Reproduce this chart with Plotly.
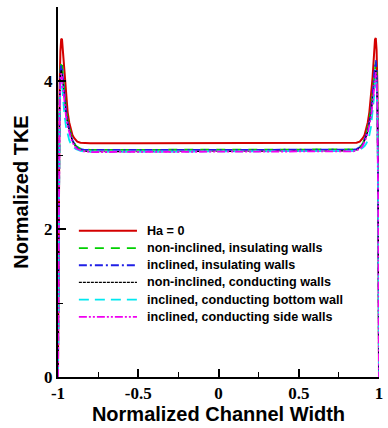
import plotly.graph_objects as go

# Normalized channel width positions (dense near the walls)
x_pos = [-1.0, -0.995, -0.99, -0.985, -0.98, -0.975, -0.97, -0.965, -0.96, -0.95,
         -0.94, -0.93, -0.92, -0.91, -0.90, -0.89, -0.88, -0.86, -0.84, -0.80,
         -0.5, 0.0, 0.5,
         0.80, 0.84, 0.86, 0.88, 0.89, 0.90, 0.91, 0.92, 0.93, 0.94,
         0.95, 0.96, 0.965, 0.97, 0.975, 0.98, 0.985, 0.99, 0.995, 1.0]

# Normalized TKE for each case
tke_ha0 = [0.0, 2.6, 3.9, 4.4, 4.57, 4.56, 4.42, 4.22, 4.05, 3.78,
           3.58, 3.44, 3.34, 3.27, 3.23, 3.20, 3.18, 3.165, 3.16, 3.16,
           3.16, 3.16, 3.16,
           3.16, 3.16, 3.165, 3.18, 3.20, 3.23, 3.27, 3.34, 3.44, 3.58,
           3.78, 4.05, 4.22, 4.42, 4.56, 4.58, 4.42, 3.92, 2.6, 0.0]

tke_noninc_ins = [0.0, 2.4, 3.7, 4.15, 4.27, 4.23, 4.09, 3.95, 3.82, 3.62,
                  3.47, 3.36, 3.28, 3.21, 3.16, 3.13, 3.11, 3.085, 3.075, 3.07,
                  3.07, 3.07, 3.07,
                  3.07, 3.075, 3.085, 3.11, 3.13, 3.16, 3.21, 3.28, 3.36, 3.47,
                  3.62, 3.82, 3.95, 4.09, 4.23, 4.26, 4.14, 3.7, 2.4, 0.0]

tke_inc_ins = [0.0, 2.4, 3.68, 4.12, 4.21, 4.17, 4.04, 3.91, 3.79, 3.60,
               3.45, 3.35, 3.27, 3.20, 3.15, 3.12, 3.10, 3.08, 3.072, 3.068,
               3.068, 3.068, 3.068,
               3.068, 3.072, 3.08, 3.10, 3.12, 3.15, 3.20, 3.27, 3.35, 3.45,
               3.60, 3.80, 3.94, 4.10, 4.25, 4.28, 4.16, 3.72, 2.4, 0.0]

tke_noninc_cond = [0.0, 2.4, 3.65, 4.08, 4.15, 4.10, 3.98, 3.85, 3.74, 3.56,
                   3.42, 3.32, 3.25, 3.19, 3.14, 3.11, 3.09, 3.065, 3.055, 3.045,
                   3.045, 3.045, 3.045,
                   3.045, 3.055, 3.065, 3.09, 3.11, 3.14, 3.19, 3.25, 3.32, 3.42,
                   3.56, 3.74, 3.85, 3.98, 4.10, 4.14, 4.06, 3.64, 2.4, 0.0]

tke_inc_cond_bottom = [0.0, 2.3, 3.55, 3.95, 4.02, 3.95, 3.80, 3.66, 3.55, 3.38,
                       3.27, 3.20, 3.15, 3.12, 3.10, 3.08, 3.07, 3.055, 3.05, 3.045,
                       3.045, 3.045, 3.045,
                       3.045, 3.05, 3.055, 3.07, 3.08, 3.10, 3.12, 3.15, 3.20, 3.27,
                       3.38, 3.55, 3.66, 3.80, 3.96, 4.05, 3.97, 3.56, 2.3, 0.0]

tke_inc_cond_side = [0.0, 2.35, 3.6, 4.02, 4.10, 4.05, 3.93, 3.80, 3.69, 3.52,
                     3.39, 3.30, 3.23, 3.17, 3.13, 3.10, 3.08, 3.06, 3.05, 3.04,
                     3.04, 3.04, 3.04,
                     3.04, 3.05, 3.06, 3.08, 3.10, 3.13, 3.17, 3.23, 3.30, 3.39,
                     3.52, 3.69, 3.80, 3.93, 4.06, 4.12, 4.04, 3.62, 2.35, 0.0]

series_names = ["Ha = 0",
                "non-inclined, insulating walls",
                "inclined, insulating walls",
                "non-inclined, conducting walls",
                "inclined, conducting bottom wall",
                "inclined, conducting side walls"]
series_values = [tke_ha0, tke_noninc_ins, tke_inc_ins,
                 tke_noninc_cond, tke_inc_cond_bottom, tke_inc_cond_side]

x_ticks = [-1, -0.5, 0, 0.5, 1]
x_tick_labels = ["-1", "-0.5", "0", "0.5", "1"]
y_ticks = [0, 2, 4]
y_tick_labels = ["0", "2", "4"]

# Line styles
colors = ["#d40000", "#00d000", "#1f1fe6", "#000000", "#00e8f0", "#f000f0"]
dashes = ["solid", "9px,7px", "8px,3px,2px,3px", "3px,1px", "10px,6px",
          "8px,2px,2px,2px,2px,2px"]
widths = [2.0, 1.8, 1.8, 1.2, 1.8, 1.8]

fig = go.Figure()
for name, vals, c, d, w in zip(series_names, series_values, colors, dashes, widths):
    fig.add_trace(go.Scatter(x=x_pos, y=vals, mode="lines", name=name,
                             line=dict(color=c, dash=d, width=w),
                             showlegend=False))

# Hand-built legend box inside the plot area
leg_x0, leg_x1, leg_tx = 0.065, 0.246, 0.271
leg_top, leg_step = 0.395, 0.0465
for i, (name, c, d, w) in enumerate(zip(series_names, colors, dashes, widths)):
    yy = leg_top - i * leg_step
    fig.add_shape(type="line", xref="paper", yref="paper",
                  x0=leg_x0, x1=leg_x1, y0=yy, y1=yy,
                  line=dict(color=c, dash=d, width=w))
    fig.add_annotation(xref="paper", yref="paper", x=leg_tx, y=yy,
                       text=name, showarrow=False, xanchor="left", yanchor="middle",
                       font=dict(family="Liberation Sans", size=12.6,
                                 color="black", weight="bold"))

tick_font = dict(family="Liberation Serif", size=17, color="black", weight="bold")
title_font = dict(family="Liberation Sans", size=20, color="black", weight="bold")

fig.update_layout(
    width=388, height=428,
    margin=dict(l=58, r=5, t=7, b=51),
    plot_bgcolor="white", paper_bgcolor="white",
    xaxis=dict(range=[-1, 1], tickvals=x_ticks, ticktext=x_tick_labels,
               ticks="inside", ticklen=8, tickwidth=1.5, tickcolor="black",
               minor=dict(dtick=0.25, tick0=-1, ticks="inside", ticklen=5,
                          tickwidth=1, tickcolor="black"),
               showline=True, linewidth=2, linecolor="black", mirror=False,
               showgrid=False, zeroline=False, tickfont=tick_font,
               title=dict(text="Normalized Channel Width", font=title_font,
                          standoff=2)),
    yaxis=dict(range=[0, 5], tickvals=y_ticks, ticktext=y_tick_labels,
               ticks="inside", ticklen=8, tickwidth=1.5, tickcolor="black",
               minor=dict(dtick=1, tick0=0, ticks="inside", ticklen=5,
                          tickwidth=1, tickcolor="black"),
               showline=True, linewidth=2, linecolor="black", mirror=False,
               showgrid=False, zeroline=False, tickfont=tick_font,
               title=dict(text="Normalized TKE", font=title_font, standoff=10)),
)

fig.write_html("out.html")
